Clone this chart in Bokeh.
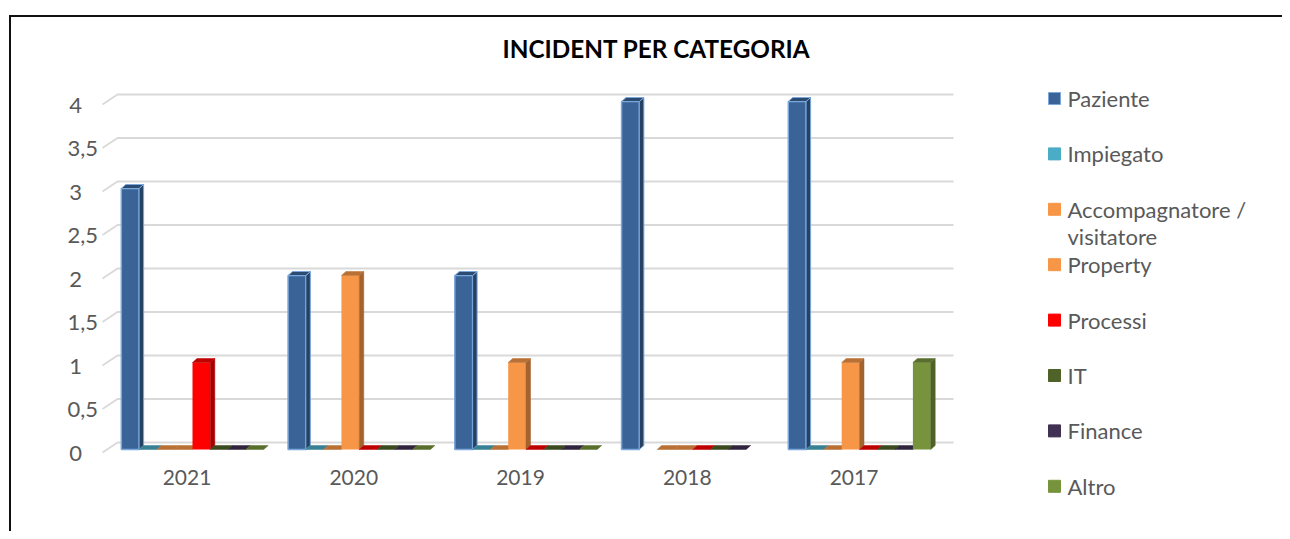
import math
from bokeh.plotting import figure
from bokeh.models import (Range1d, LinearAxis, FixedTicker, CustomJSTickFormatter,
                          Label, ColumnDataSource)
from bokeh.core.properties import value
from bokeh.embed import file_html
from bokeh.resources import INLINE

# ---------------- data ----------------
years = ["2021", "2020", "2019", "2018", "2017"]
series = ["Paziente", "Impiegato", "Accompagnatore / visitatore", "Property",
          "Processi", "IT", "Finance", "Altro"]
paziente = [3, 2, 2, 4, 4]
impiegato = [0, 0, 0, None, 0]
accompagnatore = [0, 0, 0, 0, 0]
property_ = [0, 2, 1, 0, 1]
processi = [1, 0, 0, 0, 0]
it = [0, 0, 0, 0, 0]
finance = [0, 0, 0, 0, 0]
altro = [0, 0, 0, None, 1]
values = [paziente, impiegato, accompagnatore, property_, processi, it, finance, altro]
y_ticks = [0, 0.5, 1, 1.5, 2, 2.5, 3, 3.5, 4]
title_text = "INCIDENT PER CATEGORIA"

# ---------------- styles ----------------
fills = ["#3A6497", "#4BACC6", "#F79646", "#F79646", "#FF0000", "#4F6228", "#403152", "#77933C"]
FONT = "Lato"
GREY = "#595959"


def shade(hx, f):
    r, g, b = int(hx[1:3], 16), int(hx[3:5], 16), int(hx[5:7], 16)
    return "#%02x%02x%02x" % (int(r * f), int(g * f), int(b * f))


# ---------------- layout geometry (pixels) ----------------
W, H = 1282, 531
X0, GX = 186.5, 166.75     # x of first group centre, px per group
Y0, GY = 449.0, 87.0       # y of value 0 (bar plane), px per unit


def X(px):
    return (px - X0) / GX


def Y(py):
    return (Y0 - py) / GY


p = figure(width=W, height=H, output_backend="svg", toolbar_location=None,
           x_axis_location=None, y_axis_location=None, title=None,
           x_range=Range1d(X(0), X(W)), y_range=Range1d(Y(H), Y(0)),
           min_border=0, outline_line_color=None, background_fill_color="white",
           border_fill_color="white")
p.grid.visible = False

# chart border (left and top visible)
p.line([X(9.5), X(9.5), X(1300)], [Y(545), Y(15.5), Y(15.5)], line_color="#111111",
       line_width=2, line_join="miter")

# 3D gridlines: side-wall diagonal + back-wall horizontal
gx, gy = [], []
for t in y_ticks:
    gx.append([X(102), X(117), X(953)])
    gy.append([t - 3 / GY, t + 7 / GY, t + 7 / GY])
p.multi_line(gx, gy, line_color="#D9D9D9", line_width=1.8)

# bars
slot_px, bar_px, shift_px, dx_px, dy_px = 17.8, 17.8, 5.5, 4.5, 4.0
dx, dy = dx_px / GX, dy_px / GY
for k, name in enumerate(series):
    fl, fr, ft, fb = [], [], [], []
    px_, py_, pc = [], [], []
    for i, v in enumerate(values[k]):
        if v is None:
            continue
        cx = i + (shift_px + (k - 3.5) * slot_px) / GX
        left, right = cx - bar_px / 2 / GX, cx + bar_px / 2 / GX
        if v > 0:
            fl.append(left); fr.append(right); fb.append(0); ft.append(v)
            px_.append([right, right + dx, right + dx, right])
            py_.append([0, dy, v + dy, v])
            pc.append(shade(fills[k], 0.66))
        px_.append([left, left + dx, right + dx, right])
        py_.append([v, v + dy, v + dy, v])
        pc.append(shade(fills[k], 0.75))
    edge = "#7BA7DC" if k == 0 else None
    if fl:
        p.quad(left=fl, right=fr, top=ft, bottom=fb, fill_color=fills[k],
               line_color=edge, line_width=1.5)
    src = ColumnDataSource(dict(xs=px_, ys=py_, c=pc))
    p.patches("xs", "ys", source=src, fill_color="c", line_color=edge if edge else "c",
              line_width=1 if edge else 0.5)

# y axis (labels only): whole numbers and halves as two axes so that the
# labels start at the same left edge, as in the original
s = 3.5 / GY
p.extra_y_ranges = {"lab": Range1d(p.y_range.start + s, p.y_range.end + s)}
fmt = CustomJSTickFormatter(code="return tick.toString().replace('.', ',')")
for ticks, loc in (([t for t in y_ticks if t == int(t)], 81.5),
                   ([t for t in y_ticks if t != int(t)], 97.5)):
    ax = LinearAxis(y_range_name="lab", ticker=FixedTicker(ticks=ticks), formatter=fmt,
                    fixed_location=X(loc), axis_line_color=None, major_tick_line_color=None,
                    minor_tick_line_color=None, major_tick_out=0, major_tick_in=0,
                    major_label_standoff=0, major_label_text_font=FONT,
                    major_label_text_font_size="22px", major_label_text_color=GREY)
    p.add_layout(ax, "left")

# x axis (category labels)
xaxis = LinearAxis(ticker=FixedTicker(ticks=list(range(len(years)))),
                   major_label_overrides={i: y for i, y in enumerate(years)},
                   fixed_location=Y(469), axis_line_color=None, major_tick_line_color=None,
                   minor_tick_line_color=None, major_tick_out=0, major_tick_in=0,
                   major_label_standoff=0, major_label_text_font=FONT,
                   major_label_text_font_size="21px", major_label_text_color=GREY)
p.add_layout(xaxis, "below")

# title
p.add_layout(Label(x=X(656), y=Y(48), text=title_text, text_align="center",
                   text_baseline="middle", text_font=FONT, text_font_style="bold",
                   text_font_size="24.3px", text_color="#000000"))

# legend (manual, to reproduce the wrapped label)
lx_sq, ly_sq, lc, lline = [], [], [], []
tx, ty, tt = [], [], []
for k, name in enumerate(series):
    yc = 98 + k * 55.4
    lx_sq.append(X(1054)); ly_sq.append(Y(yc)); lc.append(fills[k])
    lline.append("#7BA7DC" if k == 0 else fills[k])
    parts = name.split(" / ")
    lines = [parts[0] + " /", parts[1]] if len(parts) > 1 else [name]
    for j, ln in enumerate(lines):
        tx.append(X(1067)); ty.append(Y(yc + 27 * j)); tt.append(ln)
p.rect(x=lx_sq, y=ly_sq, width=12 / GX, height=12 / GY, fill_color=lc, line_color=lline,
       line_width=1)
p.text(x=tx, y=ty, text=tt, text_font=value(FONT), text_font_size="22px",
       text_color=GREY, text_baseline="middle", text_align="left")

open("out.html", "w").write(file_html(p, INLINE))
